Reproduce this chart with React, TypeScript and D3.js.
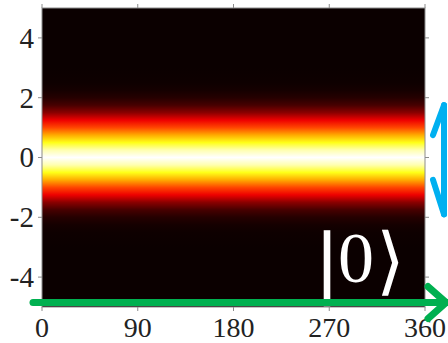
import React from 'react';
import * as d3 from 'd3';

// intensity profile (constant along the phase axis)
const profileY = [-5, -3, -2.5, -2.25, -2, -1.75, -1.5, -1.25, -1, -0.75, -0.5, -0.25, 0, 0.25, 0.5, 0.75, 1, 1.25, 1.5, 1.75, 2, 2.25, 2.5, 3, 5];
const profileI = [0, 0, 0.005, 0.015, 0.04, 0.09, 0.19, 0.34, 0.47, 0.62, 0.77, 0.92, 1, 0.92, 0.77, 0.62, 0.47, 0.34, 0.19, 0.09, 0.04, 0.015, 0.005, 0, 0];

const xTicks = [0, 90, 180, 270, 360];
const yTicks = [-4, -2, 0, 2, 4];

const W = 448;
const H = 343;

// matlab "hot"
const hot = (t: number) => {
  const k = t * 63 + 1;
  const c = (v: number) => Math.max(0, Math.min(1, v));
  const r = c(k / 24);
  const g = c((k - 24) / 24);
  const b = c((k - 48) / 16);
  return d3.rgb(r * 255, g * 255, b * 255).formatHex();
};

export default function App() {
  const x = d3.scaleLinear().domain([0, 360]).range([42, 425]);
  const y = d3.scaleLinear().domain([-5, 5]).range([307, 8]);
  const off = d3.scaleLinear().domain([5, -5]).range([0, 1]);
  const axisColor = '#8c8c8c';
  const font = '"Liberation Serif", "Times New Roman", Times, serif';

  // stops must go top -> bottom
  const stops = profileY.map((v, i) => ({ o: off(v), c: hot(profileI[i]) })).sort((a, b) => a.o - b.o);

  return (
    <svg width={W} height={H} style={{ position: 'absolute', left: 0, top: 0 }}>
      <defs>
        <linearGradient id="beam" x1="0" y1={y(5)} x2="0" y2={y(-5)} gradientUnits="userSpaceOnUse">
          {stops.map((s, i) => (
            <stop key={i} offset={s.o} stopColor={s.c} />
          ))}
        </linearGradient>
      </defs>
      <rect x={x(0)} y={y(5)} width={x(360) - x(0)} height={y(-5) - y(5)} fill="url(#beam)" />

      {/* frame and ticks */}
      <rect x={x(0)} y={y(5)} width={x(360) - x(0)} height={y(-5) - y(5)} fill="none" stroke={axisColor} strokeWidth={1} />
      {xTicks.map(t => (
        <g key={'x' + t}>
          <line x1={x(t)} x2={x(t)} y1={y(-5)} y2={y(-5) + 4} stroke={axisColor} />
          <line x1={x(t)} x2={x(t)} y1={y(5)} y2={y(5) - 4} stroke={axisColor} />
          <text x={x(t)} y={337} textAnchor="middle" fontFamily={font} fontSize={28} fill="#222">{t}</text>
        </g>
      ))}
      {yTicks.map(t => (
        <g key={'y' + t}>
          <line x1={x(0) - 4} x2={x(0)} y1={y(t)} y2={y(t)} stroke={axisColor} />
          <line x1={x(360)} x2={x(360) + 4} y1={y(t)} y2={y(t)} stroke={axisColor} />
          <text x={34} y={y(t)} dy="0.34em" textAnchor="end" fontFamily={font} fontSize={29} fill="#222">{t}</text>
        </g>
      ))}

      {/* state label */}
      <g fill="#fff" fontFamily={font}>
        <text x={319} y={288} fontSize={80} stroke="#fff" strokeWidth={2.5}>|</text>
        <text x={338} y={282} fontSize={72}>0</text>
        <text x={376} y={286} fontSize={74} fontFamily='"DejaVu Sans", sans-serif' fontWeight="200">⟩</text>
      </g>

      {/* green arrow (phase axis) */}
      <g stroke="#00b050" strokeWidth={7} fill="none" strokeLinecap="round" strokeLinejoin="round">
        <line x1={33} x2={447} y1={y(-4.85)} y2={y(-4.85)} />
        <polyline points={`${428},${y(-4.85) - 16} ${446},${y(-4.85)} ${428},${y(-4.85) + 16}`} />
      </g>

      {/* blue double arrow */}
      <g stroke="#00b0f0" strokeWidth={6} fill="none" strokeLinecap="round" strokeLinejoin="round">
        <line x1={444} x2={444} y1={y(1.75)} y2={y(-1.9)} />
        <line x1={433} y1={y(0.75)} x2={444} y2={y(1.75)} />
        <line x1={433} y1={y(-0.75)} x2={444} y2={y(-1.9)} />
      </g>
    </svg>
  );
}
